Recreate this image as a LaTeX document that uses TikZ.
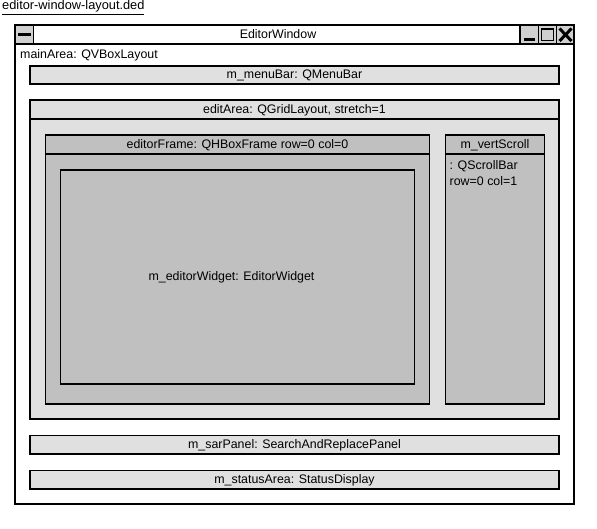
\documentclass[tikz,border=0pt]{standalone}
\usepackage{fontspec}
\setmainfont{Liberation Sans}
\begin{document}
\begin{tikzpicture}[x=1pt,y=-1pt,
  lbl/.style={font=\fontsize{12.4}{15}\selectfont, inner sep=0pt},
  light/.style={draw=black, fill=lightgr, line width=1.2pt},
  dark/.style={draw=black, fill=darkgr, line width=1.2pt},
  plain/.style={draw=black, fill=white, line width=1.2pt},
  btn/.style={draw=black, fill=btngr, line width=1.2pt},
  glyph/.style={line width=2.2pt, line cap=butt}]
\definecolor{lightgr}{RGB}{224,224,224}
\definecolor{darkgr}{RGB}{192,192,192}
\definecolor{btngr}{RGB}{208,208,208}
\useasboundingbox[fill=white] (0,0) rectangle (597,529);

% file name
\node[lbl, anchor=base west, font=\fontsize{12.8}{15}\selectfont] (fname) at (2,10) {\underline{editor-window-layout.ded}};

% window
\draw[plain] (15,25) rectangle (574,504);
\draw[plain] (15,25) rectangle (574,44);
\draw[btn] (15,25) rectangle (33.5,44);
\draw[line width=3pt] (18,34.3) -- (31,34.3);
\draw[btn] (520,25) rectangle (538.5,44);
\draw[btn] (538.5,25) rectangle (556.5,44);
\draw[btn] (556.5,25) rectangle (574,44);
\draw[glyph] (523.5,39.5) -- (535,39.5);
\draw[line width=1.2pt] (541.5,28.5) rectangle (553.5,40.5);
\draw[line width=2.2pt] (541,29) -- (554,29);
\draw[line width=3pt] (559.5,28.5) -- (571.5,41);
\draw[line width=3pt] (571.5,28.5) -- (559.5,41);
\node[lbl] (title) at (278,34.5) {EditorWindow};

\node[lbl, anchor=west] (main) at (20,55.5) {mainArea: QVBoxLayout};

% menubar
\draw[light] (30,66) rectangle (559,84);
\node[lbl] (menubar) at (294.5,75.5) {m\_menuBar: QMenuBar};

% editArea
\draw[light] (30,100) rectangle (559,419);
\draw[light] (30,100) rectangle (559,119);
\node[lbl] (editarea) at (294.5,110) {editArea: QGridLayout, stretch=1};

% editorFrame
\draw[dark] (45.5,135) rectangle (429.5,404);
\draw[dark] (45.5,135) rectangle (429.5,154);
\node[lbl] (frame) at (237.5,145) {editorFrame: QHBoxFrame row=0 col=0};
\draw[dark] (60.5,170) rectangle (414.5,384);
\node[lbl] (widget) at (231.5,277.5) {m\_editorWidget: EditorWidget};

% vertScroll
\draw[dark] (445.5,135) rectangle (544.5,404);
\draw[dark] (445.5,135) rectangle (544.5,154);
\node[lbl] (vs) at (495,145) {m\_vertScroll};
\node[lbl, anchor=west] (vs1) at (449.5,166.5) {: QScrollBar};
\node[lbl, anchor=west] (vs2) at (449.5,181.5) {row=0 col=1};

% sarPanel
\draw[light] (30,435.5) rectangle (559,454);
\node[lbl] (sar) at (294.5,445) {m\_sarPanel: SearchAndReplacePanel};

% status
\draw[light] (30,470.5) rectangle (559,489);
\node[lbl] (status) at (294.5,480) {m\_statusArea: StatusDisplay};
\end{tikzpicture}
\end{document}
